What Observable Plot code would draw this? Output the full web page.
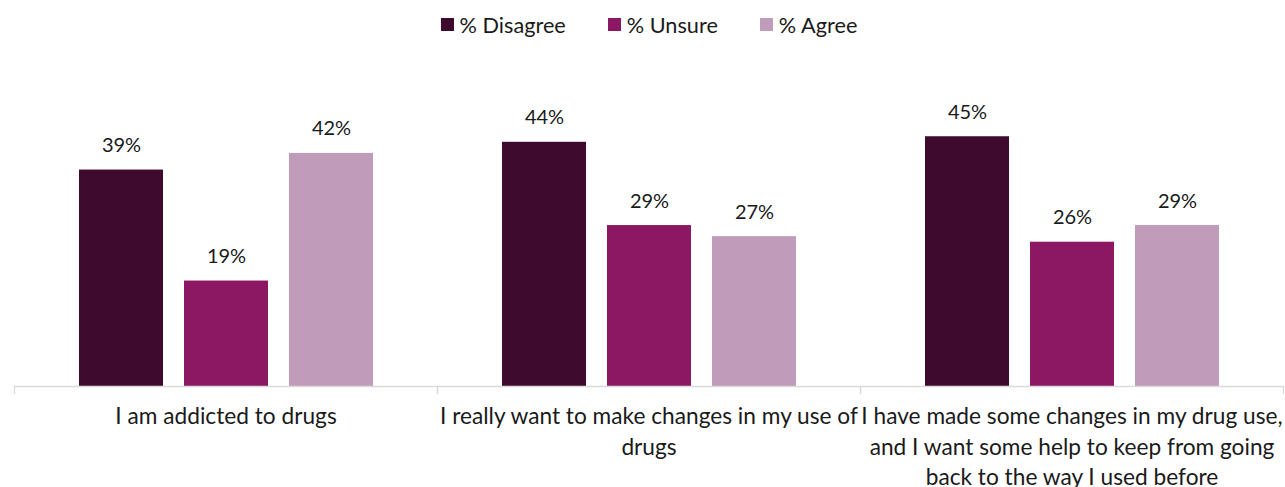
<!DOCTYPE html>
<html>
<head>
<meta charset="utf-8">
<script src="https://cdn.jsdelivr.net/npm/d3@7"></script>
<script src="https://cdn.jsdelivr.net/npm/@observablehq/plot@0.6"></script>
<style>
  body { margin: 0; background: #fff; font-family: Lato, sans-serif; color: #1a1a1a; }
  #legend { height: 49px; display: flex; justify-content: center; align-items: center; padding-left: 13px; padding-top: 0px; box-sizing: border-box; font-size: 21.7px; }
  .item { display: flex; align-items: center; margin: 0 21px; }
  .sw { width: 13px; height: 13px; margin-right: 6px; }
  #chart svg { display: block; }
</style>
</head>
<body>
<div id="legend"></div>
<div id="chart"></div>
<script>
const categories = [
  "I am addicted to drugs",
  "I really want to make changes in my use of drugs",
  "I have made some changes in my drug use, and I want some help to keep from going back to the way I used before"
];
const tickLabels = [
  "I am addicted to drugs",
  "I really want to make changes in my use of\ndrugs",
  "I have made some changes in my drug use,\nand I want some help to keep from going\nback to the way I used before"
];
const seriesNames = ["% Disagree", "% Unsure", "% Agree"];
const disagree = [39, 44, 45];
const unsure = [19, 29, 26];
const agree = [42, 27, 29];
const colors = ["#3E0A2D", "#8C1763", "#C09BBA"];

const seriesValues = [disagree, unsure, agree];
const data = categories.flatMap((c, i) =>
  seriesNames.map((s, j) => ({category: c, series: s, value: seriesValues[j][i]}))
);

// legend
const legend = document.getElementById("legend");
seriesNames.forEach((s, j) => {
  const it = document.createElement("div");
  it.className = "item";
  const sw = document.createElement("div");
  sw.className = "sw";
  sw.style.background = colors[j];
  const t = document.createElement("span");
  t.textContent = s;
  it.appendChild(sw);
  it.appendChild(t);
  legend.appendChild(it);
});

const plotHeight = 438, mTop = 59.5, mBottom = 101;
const innerH = plotHeight - mTop - mBottom;

const chart = Plot.plot({
  width: 1285,
  height: plotHeight,
  marginTop: mTop,
  marginBottom: mBottom,
  marginLeft: 13,
  marginRight: 2,
  style: {fontFamily: "Lato, sans-serif", fontSize: "20px", color: "#1a1a1a", background: "#fff"},
  fx: {domain: categories, padding: 0, label: null},
  x: {domain: seriesNames, paddingInner: 0.2, paddingOuter: 0.6, axis: null},
  y: {domain: [0, 50], axis: null},
  color: {domain: seriesNames, range: colors},
  marks: [
    Plot.barY(data, {fx: "category", x: "series", y: "value", fill: "series"}),
    Plot.ruleY([0], {stroke: "#d9d9d9", strokeWidth: 1.3}),
    Plot.frame({anchor: "left", stroke: "#d9d9d9", strokeWidth: 1.3, insetTop: innerH, insetBottom: -7}),
    Plot.frame({anchor: "right", stroke: "#d9d9d9", strokeWidth: 1.3, insetTop: innerH, insetBottom: -7}),
    Plot.text(data, {fx: "category", x: "series", y: "value", text: d => d.value + "%", dy: -18, lineAnchor: "bottom", fontSize: 20, fill: "#1a1a1a"}),
    Plot.axisFx({
      anchor: "bottom", tickSize: 0, tickPadding: 16, fontSize: 22.7, lineHeight: 1.34, label: null,
      tickFormat: d => tickLabels[categories.indexOf(d)], fill: "#1a1a1a"
    })
  ]
});
document.getElementById("chart").appendChild(chart);
</script>
</body>
</html>
